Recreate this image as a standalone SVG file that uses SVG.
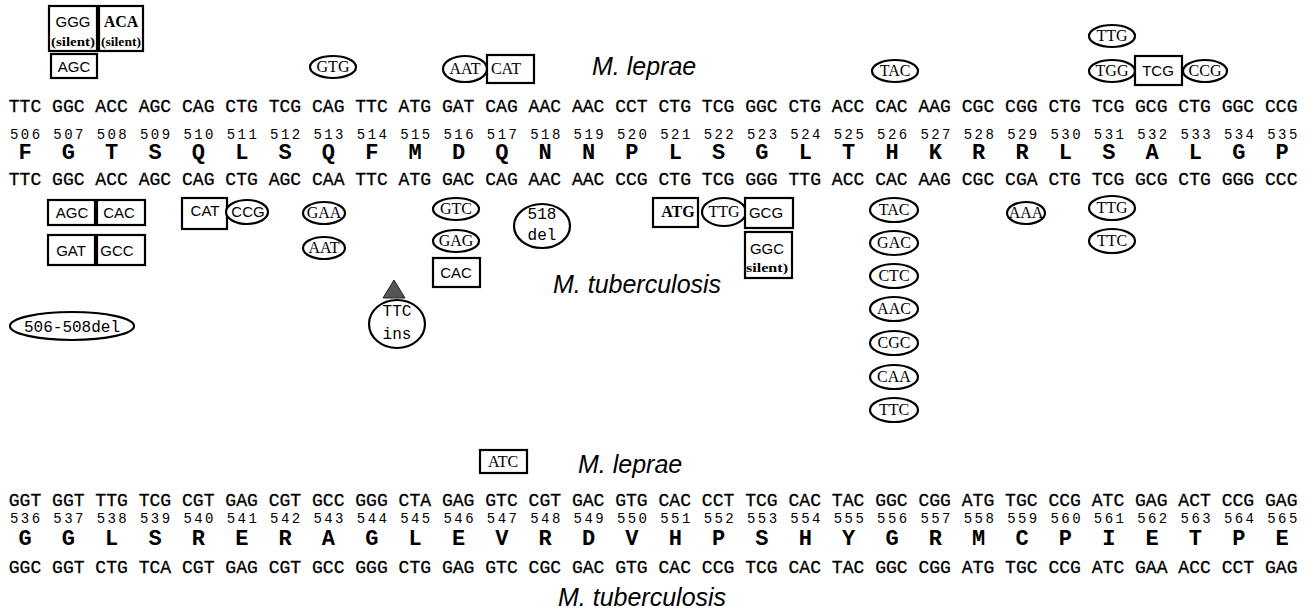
<svg xmlns="http://www.w3.org/2000/svg" width="1310" height="613" viewBox="0 0 1310 613">
<style>
.cod{font-family:"Liberation Mono","Courier New",monospace;font-size:18.06px;fill:#000;stroke:#000;stroke-width:0.3}
.num{font-family:"Liberation Mono","Courier New",monospace;font-size:14px;letter-spacing:2.4375px;fill:#000}
.aa{font-family:"Liberation Mono","Courier New",monospace;font-weight:bold;font-size:22px;text-anchor:middle;fill:#000}
.sp{font-family:"Liberation Sans",Arial,sans-serif;font-style:italic;font-size:25px;fill:#000}
.bx{fill:#fff;stroke:#000;stroke-width:2.2}
.el{fill:#fff;stroke:#000;stroke-width:2.2}
.ts{font-family:"Liberation Sans",Arial,sans-serif;font-size:15px;text-anchor:middle}
.tr{font-family:"Liberation Serif","Times New Roman",serif;font-size:16px;text-anchor:middle}
.tb{font-family:"Liberation Serif","Times New Roman",serif;font-weight:bold;font-size:13px;text-anchor:middle}
.tm{font-family:"Liberation Mono","Courier New",monospace;font-size:16px;text-anchor:middle}
</style>
<rect width="1310" height="613" fill="#fff"/>
<g id="connectors"/>

<g id="sequence-top">
<text class="cod" x="8.74" y="112" xml:space="preserve">TTC GGC ACC AGC CAG CTG TCG CAG TTC ATG GAT CAG AAC AAC CCT CTG TCG GGC CTG ACC CAC AAG CGC CGG CTG TCG GCG CTG GGC CCG</text>
<text class="num" x="9.96" y="139" xml:space="preserve">506 507 508 509 510 511 512 513 514 515 516 517 518 519 520 521 522 523 524 525 526 527 528 529 530 531 532 533 534 535</text>
<text class="aa" x="25 68.35 111.7 155.05 198.4 241.75 285.1 328.45 371.8 415.15 458.5 501.85 545.2 588.55 631.9 675.25 718.6 761.95 805.3 848.65 892 935.35 978.7 1022.05 1065.4 1108.75 1152.1 1195.45 1238.8 1282.15" y="159">FGTSQLSQFMDQNNPLSGLTHKRRLSALGP</text>
<text class="cod" x="8.74" y="185" xml:space="preserve">TTC GGC ACC AGC CAG CTG AGC CAA TTC ATG GAC CAG AAC AAC CCG CTG TCG GGG TTG ACC CAC AAG CGC CGA CTG TCG GCG CTG GGG CCC</text>
</g>

<g id="sequence-bottom">
<text class="cod" x="8.74" y="506" xml:space="preserve">GGT GGT TTG TCG CGT GAG CGT GCC GGG CTA GAG GTC CGT GAC GTG CAC CCT TCG CAC TAC GGC CGG ATG TGC CCG ATC GAG ACT CCG GAG</text>
<text class="num" x="9.96" y="523" xml:space="preserve">536 537 538 539 540 541 542 543 544 545 546 547 548 549 550 551 552 553 554 555 556 557 558 559 560 561 562 563 564 565</text>
<text class="aa" x="25 68.35 111.7 155.05 198.4 241.75 285.1 328.45 371.8 415.15 458.5 501.85 545.2 588.55 631.9 675.25 718.6 761.95 805.3 848.65 892 935.35 978.7 1022.05 1065.4 1108.75 1152.1 1195.45 1238.8 1282.15" y="545">GGLSRERAGLEVRDVHPSHYGRMCPIETPE</text>
<text class="cod" x="8.74" y="573" xml:space="preserve">GGC GGT CTG TCA CGT GAG CGT GCC GGG CTG GAG GTC CGC GAC GTG CAC CCG TCG CAC TAC GGC CGG ATG TGC CCG ATC GAA ACC CCT GAG</text>
</g>

<g id="label-leprae-top"><text class="sp" x="592" y="75">M. leprae</text></g>
<g id="label-tb-top"><text class="sp" x="553" y="293">M. tuberculosis</text></g>
<g id="label-leprae-bottom"><text class="sp" x="578" y="473">M. leprae</text></g>
<g id="label-tb-bottom"><text class="sp" x="558" y="606">M. tuberculosis</text></g>

<!-- M. leprae mutations (top) -->
<g id="ml-ggg"><rect class="bx" x="49" y="6" width="48" height="45"/><text class="ts" x="73" y="27">GGG</text><text class="tb" x="73" y="46" textLength="44" lengthAdjust="spacingAndGlyphs">(silent)</text></g>
<g id="ml-aca"><rect class="bx" x="99" y="6" width="44" height="45"/><text class="tr" x="121" y="27" font-weight="bold">ACA</text><text class="tb" x="121" y="46" textLength="40" lengthAdjust="spacingAndGlyphs">(silent)</text></g>
<g id="ml-agc"><rect class="bx" x="51" y="54" width="46" height="24"/><text class="ts" x="74" y="72">AGC</text></g>
<g id="ml-gtg"><ellipse class="el" cx="333" cy="67" rx="23" ry="11"/><text class="tr" x="333" y="72">GTG</text></g>
<g id="ml-aat"><ellipse class="el" cx="465" cy="69" rx="22" ry="13"/><text class="tr" x="465" y="74">AAT</text></g>
<g id="ml-cat"><rect class="bx" x="487" y="55" width="47" height="28"/><text class="tr" x="506" y="74">CAT</text></g>
<g id="ml-tac"><ellipse class="el" cx="895" cy="71" rx="23" ry="11"/><text class="tr" x="895" y="76">TAC</text></g>
<g id="ml-ttg"><ellipse class="el" cx="1112" cy="36" rx="23" ry="11"/><text class="tr" x="1112" y="41">TTG</text></g>
<g id="ml-tgg"><ellipse class="el" cx="1112" cy="71" rx="23" ry="11"/><text class="tr" x="1112" y="76">TGG</text></g>
<g id="ml-tcg"><rect class="bx" x="1135" y="56" width="47" height="29"/><text class="ts" x="1158" y="76">TCG</text></g>
<g id="ml-ccg"><ellipse class="el" cx="1205" cy="71" rx="22" ry="11"/><text class="tr" x="1205" y="76">CCG</text></g>

<!-- M. tuberculosis mutations -->
<g id="tb-agc"><rect class="bx" x="48" y="200" width="47" height="25"/><text class="ts" x="72" y="218">AGC</text></g>
<g id="tb-cac1"><rect class="bx" x="97" y="200" width="48" height="25"/><text class="ts" x="119" y="218">CAC</text></g>
<g id="tb-gat"><rect class="bx" x="48" y="235" width="47" height="30"/><text class="ts" x="71" y="256">GAT</text></g>
<g id="tb-gcc"><rect class="bx" x="97" y="235" width="48" height="30"/><text class="ts" x="117" y="256">GCC</text></g>
<g id="tb-cat"><rect class="bx" x="182" y="198" width="45" height="31"/><text class="ts" x="205" y="216">CAT</text></g>
<g id="tb-ccg"><ellipse class="el" cx="247" cy="212" rx="21" ry="12"/><text class="ts" x="248" y="217">CCG</text></g>
<g id="tb-gaa"><ellipse class="el" cx="324" cy="213" rx="21" ry="11"/><text class="tr" x="324" y="218">GAA</text></g>
<g id="tb-aat"><ellipse class="el" cx="324" cy="248" rx="21" ry="11"/><text class="tr" x="324" y="253">AAT</text></g>
<g id="tb-ins"><polygon points="394,280 383,298 405,298" fill="#555" stroke="#222" stroke-width="1"/><ellipse class="el" cx="397" cy="324" rx="28" ry="24"/><text class="tm" x="397" y="316">TTC</text><text class="tm" x="397" y="339">ins</text></g>
<g id="tb-del506"><ellipse class="el" cx="72" cy="326" rx="62" ry="14"/><text class="tm" x="72" y="332" font-size="17">506-508del</text></g>
<g id="tb-gtc"><ellipse class="el" cx="456" cy="209" rx="23" ry="11"/><text class="tr" x="456" y="214">GTC</text></g>
<g id="tb-gag"><ellipse class="el" cx="456" cy="241" rx="23" ry="11"/><text class="tr" x="456" y="246">GAG</text></g>
<g id="tb-cac2"><rect class="bx" x="433" y="258" width="47" height="29"/><text class="ts" x="456" y="278">CAC</text></g>
<g id="tb-del518"><ellipse class="el" cx="542" cy="226" rx="28" ry="22"/><text class="tm" x="542" y="219">518</text><text class="tm" x="542" y="240">del</text></g>
<g id="tb-atg"><rect class="bx" x="653" y="198" width="45" height="29"/><text class="tr" x="678" y="217" font-weight="bold">ATG</text></g>
<g id="tb-ttg1"><ellipse class="el" cx="724" cy="212" rx="22" ry="14"/><text class="tr" x="724" y="217">TTG</text></g>
<g id="tb-gcg"><rect class="bx" x="745" y="198" width="48" height="30"/><text class="ts" x="766" y="218">GCG</text></g>
<g id="tb-ggc"><rect class="bx" x="745" y="232" width="47" height="46"/><text class="ts" x="767" y="254">GGC</text><text class="tb" x="767" y="272" textLength="42" lengthAdjust="spacingAndGlyphs">silent)</text></g>
<g id="tb-tac"><ellipse class="el" cx="894" cy="210" rx="24" ry="12"/><text class="tr" x="894" y="215">TAC</text></g>
<g id="tb-gac"><ellipse class="el" cx="894" cy="243" rx="24" ry="12"/><text class="tr" x="894" y="248">GAC</text></g>
<g id="tb-ctc"><ellipse class="el" cx="894" cy="276" rx="24" ry="12"/><text class="tr" x="894" y="281">CTC</text></g>
<g id="tb-aac"><ellipse class="el" cx="894" cy="309" rx="24" ry="12"/><text class="tr" x="894" y="314">AAC</text></g>
<g id="tb-cgc"><ellipse class="el" cx="894" cy="343" rx="24" ry="12"/><text class="tr" x="894" y="348">CGC</text></g>
<g id="tb-caa"><ellipse class="el" cx="894" cy="377" rx="24" ry="12"/><text class="tr" x="894" y="382">CAA</text></g>
<g id="tb-ttc1"><ellipse class="el" cx="894" cy="410" rx="24" ry="12"/><text class="tr" x="894" y="415">TTC</text></g>
<g id="tb-aaa"><ellipse class="el" cx="1026" cy="213" rx="19" ry="11"/><text class="tr" x="1026" y="218">AAA</text></g>
<g id="tb-ttg2"><ellipse class="el" cx="1112" cy="208" rx="23" ry="12"/><text class="tr" x="1112" y="213">TTG</text></g>
<g id="tb-ttc2"><ellipse class="el" cx="1112" cy="241" rx="23" ry="12"/><text class="tr" x="1112" y="246">TTC</text></g>

<!-- bottom section -->
<g id="ml-atc"><rect class="bx" x="480" y="450" width="47" height="23"/><text class="tr" x="503" y="467" font-size="14">ATC</text></g>
</svg>
